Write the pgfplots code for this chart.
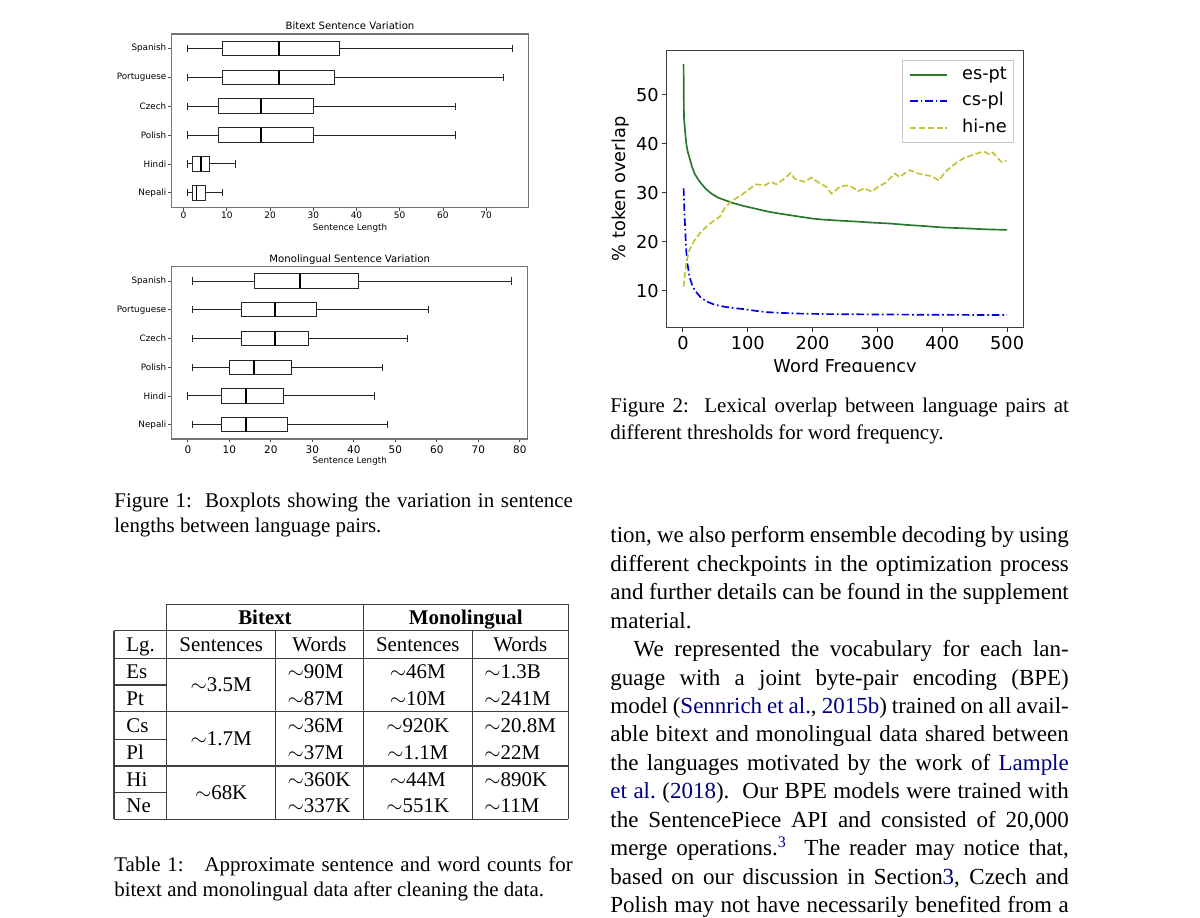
\documentclass[border=0pt]{standalone}
\usepackage{fontspec}
\setmainfont{Liberation Serif}
\newfontfamily\dejavu{DejaVu Sans}
\usepackage{pgfplots}
\pgfplotsset{compat=1.18}
\usepgfplotslibrary{statistics}
\definecolor{linkblue}{RGB}{0,0,128}
\definecolor{espt}{RGB}{40,120,40}
\definecolor{cspl}{RGB}{0,0,225}
\definecolor{hine}{RGB}{195,195,55}

\pgfplotsset{
  boxaxis/.style={
    scale only axis, anchor=south west, clip=false,
    tick align=outside, tick pos=left,
    major tick length=1.6pt,
    every tick/.style={black!70, line width=0.4pt},
    axis line style={black!55, line width=0.5pt},
    ymin=0.5, ymax=6.5, ytick={1,...,6},
    yticklabels={Nepali,Hindi,Polish,Czech,Portuguese,Spanish},
    yticklabel style={font=\dejavu\fontsize{4.2}{5}\selectfont, inner sep=0pt, xshift=-0.8pt},
    /pgf/number format/assume math mode=true,
    boxplot/draw direction=x,
    boxplot/box extend=0.5,
    boxplot/whisker extend=0.25,
    boxplot/every median/.style={line width=0.9pt, black},
    title style={font=\dejavu\fontsize{4.85}{6}\selectfont, at={(axis description cs:0.5,1)}, anchor=base, inner sep=0pt},
    xlabel style={font=\dejavu\fontsize{4.2}{5}\selectfont, at={(axis description cs:0.5,0)}, anchor=base, inner sep=0pt},
  },
  bp/.style={black!85, line width=0.45pt},
  esptstyle/.style={draw=espt, line width=0.8pt, solid},
  csplstyle/.style={draw=cspl, line width=0.8pt, dash pattern=on 3.6pt off 1.4pt on 0.8pt off 1.4pt},
  hinestyle/.style={draw=hine, line width=0.8pt, dash pattern=on 2.9pt off 1.3pt},
}

\begin{document}
\begin{tikzpicture}
\begin{scope}[x=0.4784pt,y=-0.4784pt]
\path[use as bounding box, fill=white] (0,0) rectangle (1200,918);

% ---------- captions ----------
\tikzset{mycap/.style={anchor=base west, inner sep=0pt, font=\fontsize{10}{12}\selectfont},
         mybody/.style={anchor=base west, inner sep=0pt, font=\fontsize{11}{13.6}\selectfont}}
\node[mycap] at (114,507.3) {\hbox to 219.3pt{Figure 1:\ \ Boxplots showing the variation in sentence}};
\node[mycap] at (114,533.0) {lengths between language pairs.};
\node[mycap] at (610,412.7) {\hbox to 219.3pt{Figure 2:\ \ Lexical overlap between language pairs at}};
\node[mycap] at (610,440.0) {different thresholds for word frequency.};
\node[mycap] at (114,871.3) {\hbox to 219.3pt{Table 1:\quad Approximate sentence and word counts for}};
\node[mycap] at (114,896.8) {bitext and monolingual data after cleaning the data.};

% ---------- body text ----------
\node[mybody] at (610,543.0) {\hbox to 219.3pt{tion, we also perform ensemble decoding by using}};
\node[mybody] at (610,571.4) {\hbox to 219.3pt{different checkpoints in the optimization process}};
\node[mybody] at (610,599.9) {\hbox to 219.3pt{and further details can be found in the supplement}};
\node[mybody] at (610,628.3) {material.};
\node[mybody] at (633.3,656.7) {\hbox to 208.1pt{We represented the vocabulary for each lan-}};
\node[mybody] at (610,685.2) {\hbox to 219.3pt{guage with a joint byte-pair encoding (BPE)}};
\node[mybody] at (610,713.6) {\hbox to 219.3pt{model (\textcolor{linkblue}{Sennrich et al.}, \textcolor{linkblue}{2015b}) trained on all avail-}};
\node[mybody] at (610,742.0) {\hbox to 219.3pt{able bitext and monolingual data shared between}};
\node[mybody] at (610,770.4) {\hbox to 219.3pt{the languages motivated by the work of \textcolor{linkblue}{Lample}}};
\node[mybody] at (610,798.9) {\hbox to 219.3pt{\textcolor{linkblue}{et al.}\ (\textcolor{linkblue}{2018}).\ \ Our BPE models were trained with}};
\node[mybody] at (610,827.3) {\hbox to 219.3pt{the SentencePiece API and consisted of 20,000}};
\node[mybody] at (610,855.7) {\hbox to 219.3pt{merge operations.\textsuperscript{\textcolor{linkblue}{3}}\ \ The reader may notice that,}};
\node[mybody] at (610,884.2) {\hbox to 219.3pt{based on our discussion in Section\textcolor{linkblue}{3}, Czech and}};
\node[mybody] at (610,912.6) {\hbox to 219.3pt{Polish may not have necessarily benefited from a}};

% ---------- table ----------
\draw[black!75, line width=0.5pt]
 (166.7,604.3) -- (568.3,604.3)
 (114,630.7) -- (568.3,630.7)
 (114,658.3) -- (568.3,658.3)
 (114,685) -- (166.7,685)
 (114,711.7) -- (568.3,711.7)
 (114,739.3) -- (166.7,739.3)
 (114,766) -- (568.3,766)
 (114,792.7) -- (166.7,792.7)
 (114,819.3) -- (568.3,819.3)
 (114,630.7) -- (114,819.3)
 (166.7,604.3) -- (166.7,819.3)
 (275.7,630.7) -- (275.7,819.3)
 (363.3,604.3) -- (363.3,819.3)
 (472.3,630.7) -- (472.3,819.3)
 (568.3,604.3) -- (568.3,819.3);
\tikzset{tcell/.style={anchor=base, inner sep=0pt, font=\fontsize{10}{12}\selectfont},
         lcell/.style={anchor=base west, inner sep=0pt, font=\fontsize{10}{12}\selectfont}}
\node[tcell] at (265,624.3) {\textbf{Bitext}};
\node[tcell] at (465.8,624.3) {\textbf{Monolingual}};
\node[lcell] at (126,651.5) {Lg.};
\node[tcell] at (221.2,651.5) {Sentences};
\node[tcell] at (319.5,651.5) {Words};
\node[tcell] at (417.8,651.5) {Sentences};
\node[tcell] at (520.3,651.5) {Words};
\node[lcell] at (126,678.5) {Es};  \node[lcell] at (287.3,678.5) {$\sim$90M};  \node[tcell] at (417.8,678.5) {$\sim$46M};  \node[lcell] at (484,678.5) {$\sim$1.3B};
\node[lcell] at (126,705.2) {Pt};  \node[lcell] at (287.3,705.2) {$\sim$87M};  \node[tcell] at (417.8,705.2) {$\sim$10M};  \node[lcell] at (484,705.2) {$\sim$241M};
\node[lcell] at (126,732.3) {Cs};  \node[lcell] at (287.3,732.3) {$\sim$36M};  \node[tcell] at (417.8,732.3) {$\sim$920K}; \node[lcell] at (484,732.3) {$\sim$20.8M};
\node[lcell] at (126,759.3) {Pl};  \node[lcell] at (287.3,759.3) {$\sim$37M};  \node[tcell] at (417.8,759.3) {$\sim$1.1M}; \node[lcell] at (484,759.3) {$\sim$22M};
\node[lcell] at (126,786.1) {Hi};  \node[lcell] at (287.3,786.1) {$\sim$360K}; \node[tcell] at (417.8,786.1) {$\sim$44M};  \node[lcell] at (484,786.1) {$\sim$890K};
\node[lcell] at (126,812.8) {Ne};  \node[lcell] at (287.3,812.8) {$\sim$337K}; \node[tcell] at (417.8,812.8) {$\sim$551K}; \node[lcell] at (484,812.8) {$\sim$11M};
\node[tcell] at (221.2,691.8) {$\sim$3.5M};
\node[tcell] at (221.2,745.6) {$\sim$1.7M};
\node[tcell] at (221.2,799.5) {$\sim$68K};
\end{scope}

% ---------- Bitext boxplot ----------
\begin{axis}[boxaxis,
  at={(82.14pt,-99.17pt)}, width=170.60pt, height=82.91pt,
  xmin=-2.75, xmax=79.75, xtick={0,10,...,70},
  xticklabel style={font=\dejavu\fontsize{4.3}{5}\selectfont, inner sep=0pt, yshift=-0.6pt},
  title={Bitext Sentence Variation}, title style={yshift=-3.94pt},
  xlabel={Sentence Length}, xlabel style={yshift=-10.9pt},
]
\addplot[bp, boxplot prepared={draw position=6, lower whisker=1, lower quartile=9, median=22, upper quartile=36, upper whisker=76}] coordinates {};
\addplot[bp, boxplot prepared={draw position=5, lower whisker=1, lower quartile=9, median=22, upper quartile=35, upper whisker=74}] coordinates {};
\addplot[bp, boxplot prepared={draw position=4, lower whisker=1, lower quartile=8, median=18, upper quartile=30, upper whisker=63}] coordinates {};
\addplot[bp, boxplot prepared={draw position=3, lower whisker=1, lower quartile=8, median=18, upper quartile=30, upper whisker=63}] coordinates {};
\addplot[bp, boxplot prepared={draw position=2, lower whisker=1, lower quartile=2, median=4, upper quartile=6, upper whisker=12}] coordinates {};
\addplot[bp, boxplot prepared={draw position=1, lower whisker=1, lower quartile=2, median=3, upper quartile=5, upper whisker=9}] coordinates {};
\end{axis}

% ---------- Monolingual boxplot ----------
\begin{axis}[boxaxis,
  at={(82.14pt,-210.02pt)}, width=170.31pt, height=82.43pt,
  xmin=-3.9, xmax=81.9, xtick={0,10,...,80},
  xticklabel style={font=\dejavu\fontsize{5.0}{6}\selectfont, inner sep=0pt, yshift=-1.5pt},
  title={Monolingual Sentence Variation}, title style={yshift=-4.1pt},
  xlabel={Sentence Length}, xlabel style={yshift=-11.6pt},
]
\addplot[bp, boxplot prepared={draw position=6, lower whisker=1, lower quartile=16, median=27, upper quartile=41, upper whisker=78}] coordinates {};
\addplot[bp, boxplot prepared={draw position=5, lower whisker=1, lower quartile=13, median=21, upper quartile=31, upper whisker=58}] coordinates {};
\addplot[bp, boxplot prepared={draw position=4, lower whisker=1, lower quartile=13, median=21, upper quartile=29, upper whisker=53}] coordinates {};
\addplot[bp, boxplot prepared={draw position=3, lower whisker=1, lower quartile=10, median=16, upper quartile=25, upper whisker=47}] coordinates {};
\addplot[bp, boxplot prepared={draw position=2, lower whisker=0, lower quartile=8, median=14, upper quartile=23, upper whisker=45}] coordinates {};
\addplot[bp, boxplot prepared={draw position=1, lower whisker=1, lower quartile=8, median=14, upper quartile=24, upper whisker=48}] coordinates {};
\end{axis}

% ---------- Lexical overlap line chart ----------
\begin{scope}
\clip (287pt,-10pt) rectangle (515pt,-177.9pt);
\begin{axis}[
  at={(318.95pt,-156.58pt)}, anchor=south west, scale only axis,
  width=170.60pt, height=132.33pt,
  xmin=-25, xmax=525, ymin=2.5, ymax=59,
  xtick={0,100,...,500}, ytick={10,20,...,50},
  tick align=outside, tick pos=left, major tick length=2.1pt,
  every tick/.style={black!80, line width=0.5pt},
  axis line style={black!75, line width=0.6pt},
  font=\dejavu\fontsize{8.5}{10}\selectfont,
  /pgf/number format/assume math mode=true,
  xticklabel style={inner sep=0pt, yshift=-2pt},
  yticklabel style={inner sep=0pt, xshift=-1.5pt},
  ylabel={\% token overlap},
  ylabel style={at={(axis description cs:-0.129,0.5)}, anchor=center, inner sep=0pt},
  xlabel={Word Frequency},
  xlabel style={at={(axis description cs:0.5,-0.147)}, anchor=center, inner sep=0pt},
  legend style={at={(1,1)}, anchor=north east, xshift=-4.45pt, yshift=-4.45pt,
    draw=black!22, font=\dejavu\fontsize{8.5}{10}\selectfont,
    nodes={inner sep=0pt, text height=6.2pt, text depth=1.8pt},
    inner xsep=3.2pt, inner ysep=2.9pt, row sep=4.7pt, column sep=6.9pt,
    cells={anchor=west}},
]
\addplot[esptstyle, forget plot] coordinates {
(1,56.3) (1.6,45.4) (3.6,42.1) (5.2,40.0) (7,38.6) (10,37.2) (14,35.3) (18,33.9) (23,32.8) (28,31.9) (35,30.8) (44,29.8) (54,29.0) (64,28.5) (77,27.9) (90,27.4) (103,27.0) (116,26.6) (129,26.2) (141,25.9) (155,25.6) (170,25.3) (185,25.0) (200,24.7) (216,24.5) (240,24.3) (267,24.1) (290,23.9) (319,23.7) (347,23.4) (370,23.2) (400,22.9) (437,22.7) (470,22.5) (500,22.4)
};
\addplot[csplstyle, forget plot] coordinates {
(1,30.9) (2.6,25.1) (5,18.3) (7,15.5) (10,12.9) (14,11.2) (18,10.1) (28,8.5) (38,7.7) (49,7.1) (64,6.7) (80,6.4) (95,6.2) (110,5.9) (129,5.6) (150,5.45) (180,5.3) (220,5.2) (270,5.15) (320,5.1) (400,5.05) (500,5.0)
};
\addplot[hinestyle, forget plot] coordinates {
(1,10.8) (5,15.6) (10,18.3) (18,20.3) (28,22.0) (39,23.4) (49,24.4) (57,25.1) (64,26.8) (75,28.3) (90,29.5) (106,31.1) (113,31.7) (126,31.5) (136,32.2) (144,31.7) (157,32.9) (166,34.0) (172,32.9) (180,32.5) (188,32.2) (198,33.1) (211,31.9) (221,31.2) (229,29.8) (242,31.2) (252,31.5) (260,31.2) (270,30.3) (280,30.9) (291,30.2) (301,31.2) (311,31.9) (319,32.9) (327,33.9) (334,33.2) (345,34.2) (350,34.6) (363,33.9) (373,33.6) (383,33.4) (395,32.5) (404,34.2) (414,35.3) (424,36.3) (435,37.2) (445,37.6) (458,38.2) (466,38.3) (473,37.8) (478,38.2) (486,37.0) (491,36.3) (499,36.5)
};
\addlegendimage{legend image code/.code={\draw[draw=espt, line width=0.85pt, solid] (0pt,0pt) -- (17.5pt,0pt);}}
\addlegendentry{es-pt}
\addlegendimage{legend image code/.code={\draw[draw=cspl, line width=0.85pt, dash pattern=on 3.6pt off 1.4pt on 0.8pt off 1.4pt] (0pt,0pt) -- (17.5pt,0pt);}}
\addlegendentry{cs-pl}
\addlegendimage{legend image code/.code={\draw[draw=hine, line width=0.85pt, dash pattern=on 2.9pt off 1.3pt] (0pt,0pt) -- (17.5pt,0pt);}}
\addlegendentry{hi-ne}
\end{axis}
\end{scope}
\end{tikzpicture}
\end{document}
